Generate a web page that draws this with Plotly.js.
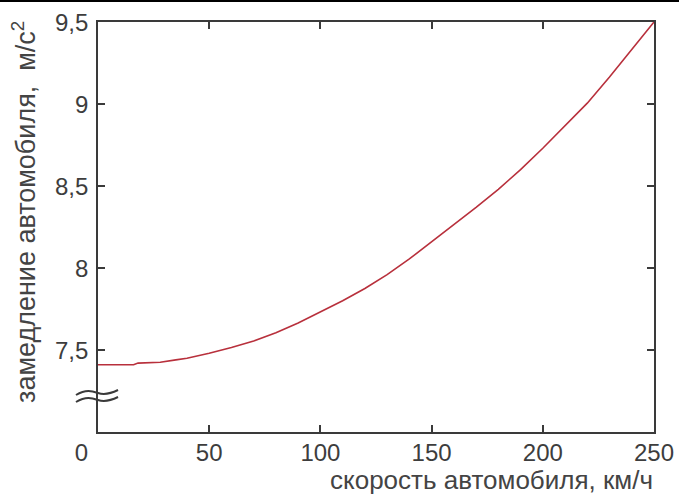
<!DOCTYPE html>
<html>
<head>
<meta charset="utf-8">
<script src="https://cdn.plot.ly/plotly-3.0.1.min.js"></script>
<style>html,body{margin:0;padding:0;background:#fff;}#chart{width:679px;height:495px;}</style>
</head>
<body>
<div id="chart"></div>
<script>
var speed = [0, 10, 16, 18, 28, 35, 40, 50, 60, 70, 80, 90, 100, 110, 120, 130, 140, 150, 160, 170, 180, 190, 200, 210, 220, 230, 240, 250];
var decel = [7.41, 7.41, 7.41, 7.42, 7.425, 7.44, 7.45, 7.48, 7.515, 7.555, 7.605, 7.665, 7.73, 7.80, 7.875, 7.96, 8.055, 8.16, 8.26, 8.37, 8.48, 8.60, 8.73, 8.865, 9.005, 9.165, 9.33, 9.50];
var xTickVals = [0, 50, 100, 150, 200, 250];
var xTickText = ['0\u00a0\u00a0\u00a0\u00a0\u00a0', '50', '100', '150', '200', '250'];
var yTickVals = [7.5, 8, 8.5, 9, 9.5];
var yTickText = ['7,5', '8', '8,5', '9', '9,5'];
var xTitle = 'скорость автомобиля, км/ч';
var yTitle = 'замедление автомобиля,  м/с<sup>2</sup>';

var W = 679, H = 495, L = 98, R = 25, T = 22, B = 63;
var pw = W - L - R, ph = H - T - B;
function px(x) { return ((x - L) / pw).toFixed(4); }
function py(y) { return ((H - B - y) / ph).toFixed(4); }
function wave(y0) {
  return 'M ' + px(76) + ' ' + py(y0 + 3) +
    ' C ' + px(86) + ' ' + py(y0 - 3) + ', ' + px(92) + ' ' + py(y0 - 1) + ', ' + px(98) + ' ' + py(y0 + 1) +
    ' C ' + px(104) + ' ' + py(y0 + 3) + ', ' + px(110) + ' ' + py(y0 + 2) + ', ' + px(118) + ' ' + py(y0 - 2);
}

var trace = {
  x: speed, y: decel, type: 'scatter', mode: 'lines',
  line: {color: '#b8303c', width: 1.6},
  hoverinfo: 'skip'
};

var tickFont = {family: 'Liberation Sans, Arial, sans-serif', size: 24, color: '#3d3d3d'};
var axisCommon = {
  showline: true, linecolor: '#3a3a3a', linewidth: 2,
  mirror: 'ticks', ticks: 'inside', ticklen: 7, tickwidth: 2, tickcolor: '#3a3a3a',
  showgrid: false, zeroline: false,
  tickfont: tickFont
};

var annotations = [
  {text: xTitle, xref: 'paper', yref: 'paper', x: px(492), y: py(480), xanchor: 'center', yanchor: 'middle',
   showarrow: false, font: {family: 'Liberation Sans, Arial, sans-serif', size: 26, color: '#444'}},
  {text: yTitle, xref: 'paper', yref: 'paper', x: px(24), y: py(212), xanchor: 'center', yanchor: 'middle',
   textangle: -90, showarrow: false, font: {family: 'Liberation Sans, Arial, sans-serif', size: 27, color: '#444'}}
];
yTickVals.forEach(function (v, i) {
  annotations.push({text: yTickText[i], xref: 'paper', yref: 'y', x: px(90), y: v,
    xanchor: 'right', yanchor: 'middle', showarrow: false, font: tickFont});
});

var layout = {
  width: W, height: H,
  margin: {l: L, r: R, t: T, b: B},
  paper_bgcolor: '#fff', plot_bgcolor: '#fff',
  showlegend: false,
  xaxis: Object.assign({}, axisCommon, {range: [0, 250], tickvals: xTickVals, ticktext: xTickText, ticklabelstandoff: -2}),
  yaxis: Object.assign({}, axisCommon, {range: [7.0, 9.5], tickvals: yTickVals, showticklabels: false}),
  annotations: annotations,
  shapes: [
    {type: 'path', xref: 'paper', yref: 'paper', path: wave(392), line: {color: '#3a3a3a', width: 2}},
    {type: 'path', xref: 'paper', yref: 'paper', path: wave(399), line: {color: '#3a3a3a', width: 2}},
    {type: 'line', xref: 'paper', yref: 'paper', x0: px(0), x1: px(679), y0: py(1), y1: py(1), line: {color: '#000', width: 2}}
  ]
};

Plotly.newPlot('chart', [trace], layout, {staticPlot: true, displayModeBar: false});
</script>
</body>
</html>
